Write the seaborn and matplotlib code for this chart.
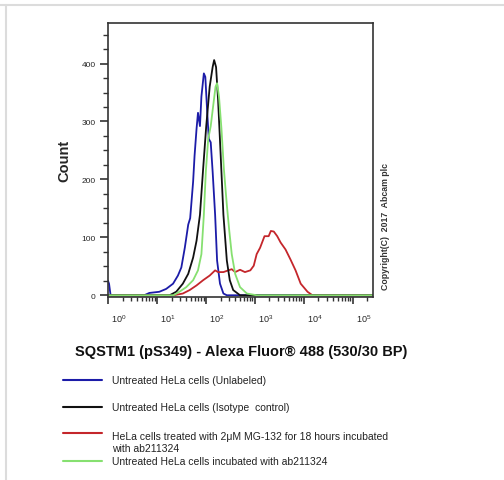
import matplotlib
matplotlib.use("Agg")
import matplotlib.pyplot as plt
import matplotlib.ticker as mticker
import matplotlib.transforms as mtrans
from matplotlib.lines import Line2D
import seaborn as sns
import pandas as pd

# ---------------- data ----------------
series_names = [
    "Untreated HeLa cells (Unlabeled)",
    "Untreated HeLa cells (Isotype  control)",
    "HeLa cells treated with 2\u03bcM MG-132 for 18 hours incubated\nwith ab211324",
    "Untreated HeLa cells incubated with ab211324",
]
series_colors = ["#1c1ca8", "#111111", "#c4262b", "#86e070"]

blue_x = [1.0, 1.05, 1.13, 5.5, 7.0, 11.2, 15.5, 21.4, 26.9, 31.6, 37.2, 43.7, 47.9, 55.0,
          58.9, 64.6, 69.2, 75.9, 81.3, 91.2, 97.7, 107, 115, 126, 138, 155, 170, 195,
          229, 269, 262144]
blue_y = [25, 20, 0, 0, 4, 6, 11, 20, 34, 48, 82, 122, 133, 196,
          241, 287, 315, 292, 343, 383, 377, 315, 270, 264, 213, 139, 60, 20,
          3, 0, 0]

black_x = [1.0, 18.2, 24.8, 33.9, 43.7, 55.0, 64.6, 75.9, 88.1, 102, 120, 138, 148, 162,
           178, 200, 229, 269, 309, 363, 501, 262144]
black_y = [0, 0, 6, 20, 37, 65, 94, 139, 218, 292, 360, 394, 406, 394,
           338, 247, 139, 60, 26, 9, 0, 0]

red_x = [1.0, 21.9, 33.9, 46.8, 64.6, 88.1, 120, 155, 178, 229, 288, 339, 398, 501, 631,
         813, 955, 1096, 1288, 1585, 1928, 2138, 2455, 2884, 3388, 4266, 5370, 6839,
         8710, 12023, 15136, 262144]
red_y = [0, 0, 3, 9, 17, 26, 34, 43, 40, 40, 43, 45, 40, 44, 40,
         43, 51, 71, 82, 102, 102, 111, 110, 102, 91, 79, 62, 43,
         20, 6, 0, 0]

green_x = [1.0, 21.9, 28.8, 39.8, 55.0, 69.2, 81.3, 91.2, 100, 112, 126, 141, 158, 170,
           186, 209, 234, 269, 302, 339, 398, 501, 692, 1096, 262144]
green_y = [0, 0, 6, 14, 26, 43, 71, 139, 213, 270, 292, 326, 360, 366,
           343, 287, 218, 156, 111, 71, 37, 14, 3, 0, 0]

x_tick_values = [1, 10, 100, 1000, 10000, 100000]
y_tick_values = [0, 100, 200, 300, 400]

title_text = "SQSTM1 (pS349) - Alexa Fluor\u00ae 488 (530/30 BP)"
ylabel_text = "Count"
copyright_text = "Copyright(C)  2017  Abcam plc"

# ---------------- build table ----------------
frames = []
for name, xs, ys in zip(series_names,
                        [blue_x, black_x, red_x, green_x],
                        [blue_y, black_y, red_y, green_y]):
    frames.append(pd.DataFrame({"intensity": xs, "count": ys, "sample": name}))
df = pd.concat(frames, ignore_index=True)

# ---------------- style ----------------
sns.set_style("white")
plt.rcParams["font.family"] = ["Liberation Sans", "DejaVu Sans"]
plt.rcParams["mathtext.default"] = "regular"

fig = plt.figure(figsize=(5.04, 4.81), dpi=100)
W, H = 504, 481
left, right, top, bottom = 108, 373, 24, 298
ax = fig.add_axes([left / W, 1 - bottom / H, (right - left) / W, (bottom - top) / H])
ax.set_xscale("log")

draw_order = [0, 2, 1, 3]
palette = dict(zip(series_names, series_colors))
for i in draw_order:
    sub = df[df["sample"] == series_names[i]]
    sns.lineplot(data=sub, x="intensity", y="count", color=palette[series_names[i]],
                 sort=False, estimator=None, lw=1.3, ax=ax, legend=False)

ax.set_xlim(1, 262144)
ax.set_ylim(-3, 470)
ax.set_xlabel("")

# ticks
ax.xaxis.set_major_locator(mticker.FixedLocator(x_tick_values))
ax.xaxis.set_major_formatter(mticker.LogFormatterSciNotation())
ax.xaxis.set_minor_locator(mticker.LogLocator(base=10, subs=range(2, 10), numticks=20))
ax.xaxis.set_minor_formatter(mticker.NullFormatter())
ax.yaxis.set_major_locator(mticker.FixedLocator(y_tick_values))
ax.yaxis.set_minor_locator(mticker.MultipleLocator(25))

ax.tick_params(axis="x", which="major", direction="out", length=5, width=1.2,
               color="#333333", labelsize=6.5, pad=6, bottom=True)
ax.tick_params(axis="x", which="minor", direction="out", length=3, width=1.0,
               color="#333333", bottom=True)
ax.tick_params(axis="y", which="major", direction="out", length=6, width=1.2,
               color="#333333", labelsize=6, pad=3, left=True)
ax.tick_params(axis="y", which="minor", direction="out", length=3.5, width=1.0,
               color="#333333", left=True)

# shift x tick labels to the right of the ticks
offset = mtrans.ScaledTranslation(11 / 100, 0, fig.dpi_scale_trans)
for lbl in ax.get_xticklabels():
    lbl.set_transform(lbl.get_transform() + offset)

for sp in ax.spines.values():
    sp.set_visible(True)
    sp.set_linewidth(1.2)
    sp.set_color("#333333")

# y label
ax.set_ylabel(ylabel_text, fontsize=10.5, fontweight="bold")
ax.yaxis.set_label_coords((71 - left) / (right - left), 0.50)

# copyright
fig.text(385 / W, 1 - 227 / H, copyright_text, rotation=90, fontsize=6.3,
         fontweight="bold", color="#333333", ha="center", va="center")

# title
fig.text(75 / W, 1 - 352 / H, title_text, fontsize=10.5, fontweight="bold",
         ha="left", va="center", color="#111111")

# legend (manual, matching reference layout)
line_rows = [381, 408, 434, 462]
text_rows = [381, 408, 443, 462]
for name, col, ly, ty in zip(series_names, series_colors, line_rows, text_rows):
    fig.add_artist(Line2D([63 / W, 102 / W], [1 - ly / H, 1 - ly / H],
                          transform=fig.transFigure, color=col, lw=1.5))
    fig.text(112 / W, 1 - ty / H, name, fontsize=7.5, ha="left", va="center",
             color="#222222", linespacing=1.2)

# light gray frame lines at top and left of the image
fig.add_artist(Line2D([0, 1], [1 - 6 / H, 1 - 6 / H], transform=fig.transFigure,
                      color="#dcdcdc", lw=1.5))
fig.add_artist(Line2D([6 / W, 6 / W], [0, 1 - 6 / H], transform=fig.transFigure,
                      color="#dcdcdc", lw=1.5))

fig.savefig("out.png", dpi=100)
